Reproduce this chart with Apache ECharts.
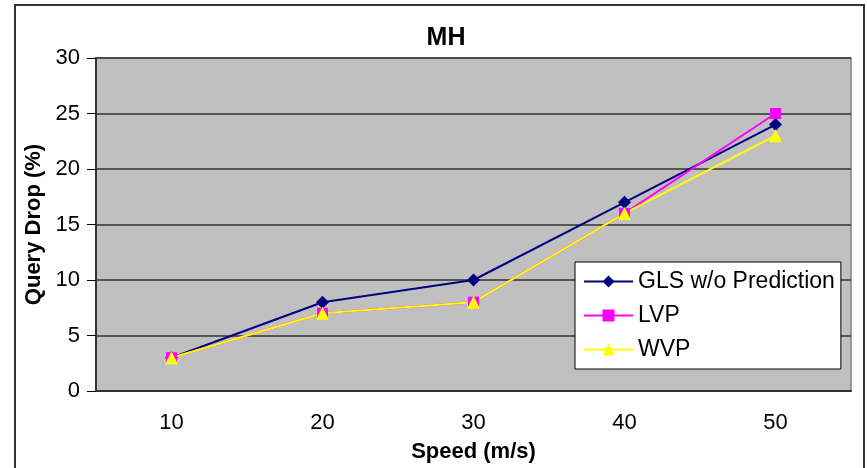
<!DOCTYPE html>
<html>
<head>
<meta charset="UTF-8">
<script src="https://cdn.jsdelivr.net/npm/echarts@6/dist/echarts.min.js"></script>
<style>
body{margin:0;background:#fff}
#box{width:867px;height:468px}
</style>
</head>
<body>
<div id="box"></div>
<script>
// data
var speeds = ['10', '20', '30', '40', '50'];
var glsData = [3, 8, 10, 17, 24];
var lvpData = [3, 7, 8, 16, 25];
var wvpData = [3, 7, 8, 16, 23];

var font = 'Liberation Sans, Arial, sans-serif';
var chart = echarts.init(document.getElementById('box'));
var option = {
    animation: false,
    title: {
        text: 'MH',
        left: 441,
        top: 21,
        textAlign: 'center',
        textStyle: {fontFamily: font, fontSize: 25, fontWeight: 'bold', color: '#000'}
    },
    graphic: [{
        type: 'rect',
        shape: {x: 15, y: 5, width: 849, height: 500},
        style: {fill: 'none', stroke: '#333', lineWidth: 2},
        silent: true
    }],
    grid: {
        left: 96, top: 58, right: 16, bottom: 76,
        show: true,
        backgroundColor: '#c0c0c0',
        borderColor: '#808080',
        borderWidth: 1.5
    },
    legend: {
        orient: 'vertical',
        left: 575,
        top: 262,
        backgroundColor: '#fff',
        borderColor: '#000',
        borderWidth: 1,
        padding: [8, 6, 8, 8],
        itemWidth: 49,
        itemHeight: 15,
        itemGap: 11,
        textStyle: {fontFamily: font, fontSize: 23, color: '#000'},
        data: ['GLS w/o Prediction', 'LVP', 'WVP']
    },
    xAxis: {
        type: 'category',
        data: speeds,
        name: 'Speed (m/s)',
        nameLocation: 'middle',
        nameGap: 50,
        nameTextStyle: {fontFamily: font, fontSize: 22, fontWeight: 'bold', color: '#000'},
        axisLine: {lineStyle: {color: '#333', width: 2}},
        axisTick: {length: 8, interval: 0, lineStyle: {color: '#000'}},
        axisLabel: {fontFamily: font, fontSize: 22, color: '#000', margin: 21}
    },
    yAxis: {
        type: 'value',
        min: 0,
        max: 30,
        interval: 5,
        name: 'Query Drop (%)',
        nameLocation: 'middle',
        nameGap: 50,
        nameTextStyle: {fontFamily: font, fontSize: 22, fontWeight: 'bold', color: '#000'},
        axisLine: {show: true, lineStyle: {color: '#333', width: 2}},
        axisTick: {show: true, length: 9, lineStyle: {color: '#000'}},
        axisLabel: {fontFamily: font, fontSize: 22, color: '#000', margin: 16},
        splitLine: {lineStyle: {color: '#333', width: 1.5}}
    },
    series: [
        {
            name: 'GLS w/o Prediction',
            type: 'line',
            data: glsData,
            symbol: 'diamond',
            symbolSize: 13,
            color: '#000080',
            lineStyle: {width: 2, color: '#000080'},
            itemStyle: {color: '#000080'}
        },
        {
            name: 'LVP',
            type: 'line',
            data: lvpData,
            symbol: 'rect',
            symbolSize: 11,
            color: '#ff00ff',
            lineStyle: {width: 2, color: '#ff00ff'},
            itemStyle: {color: '#ff00ff'}
        },
        {
            name: 'WVP',
            type: 'line',
            data: wvpData,
            symbol: 'triangle',
            symbolSize: 13,
            color: '#ffff00',
            lineStyle: {width: 2, color: '#ffff00'},
            itemStyle: {color: '#ffff00'}
        }
    ]
};
chart.setOption(option);
</script>
</body>
</html>
